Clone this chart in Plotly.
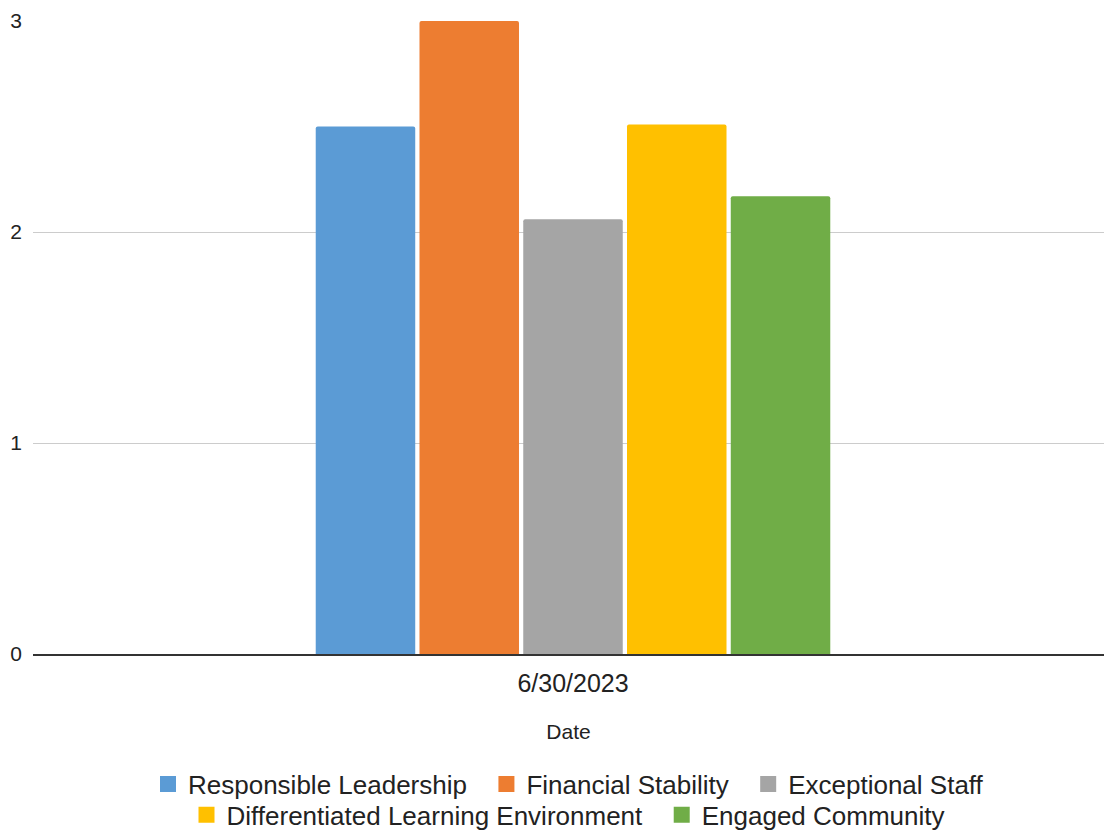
import plotly.graph_objects as go

categories = ["6/30/2023"]
series_names = ["Responsible Leadership", "Financial Stability", "Exceptional Staff",
                "Differentiated Learning Environment", "Engaged Community"]
series_values = [[2.5], [3.0], [2.06], [2.51], [2.17]]
colors = ["#5b9bd5", "#ed7d31", "#a5a5a5", "#ffc000", "#70ad47"]
legend_rows = ["legend", "legend", "legend", "legend2", "legend2"]
legend_pad = ["\u00a0\u00a0", "\u00a0\u00a0", "", "\u00a0\u00a0", ""]
y_ticks = [0, 1, 2, 3]

fig = go.Figure()
for name, vals, c in zip(series_names, series_values, colors):
    fig.add_trace(go.Bar(x=categories, y=vals, name=name, showlegend=False,
                         marker=dict(color=c, line=dict(width=0), cornerradius=2)))
# legend-only entries (square swatches)
for name, c, lg, pad in zip(series_names, colors, legend_rows, legend_pad):
    fig.add_trace(go.Scatter(x=[None], y=[None], name=name + pad, mode="markers", legend=lg,
                             marker=dict(symbol="square", size=16, color=c)))

legend_common = dict(orientation="h", x=0.5, xanchor="center", yanchor="middle",
                     font=dict(size=26, color="#222222"), itemsizing="trace",
                     bgcolor="rgba(0,0,0,0)", borderwidth=0)

fig.update_layout(
    width=1104, height=830,
    margin=dict(l=33, r=0, t=21, b=176, autoexpand=False),
    paper_bgcolor="white", plot_bgcolor="white",
    font=dict(family="Liberation Sans, Arial, sans-serif", color="#222222"),
    barmode="group", bargap=0.5156, bargroupgap=0.041,
    showlegend=True,
    legend=dict(y=-0.2054, **legend_common),
    legend2=dict(y=-0.2543, **legend_common),
    xaxis=dict(type="category", range=[-0.5042, 0.4958], showgrid=False, showline=True,
               linecolor="#333333", linewidth=1.5,
               tickfont=dict(size=25, color="#222222"), ticks="", ticklabelstandoff=6,
               title=dict(text="Date", font=dict(size=21, color="#222222"), standoff=29)),
    yaxis=dict(range=[0, 3], tickvals=y_ticks, showgrid=True, gridcolor="#cccccc", gridwidth=1,
               zeroline=False, showline=False, tickfont=dict(size=21, color="#222222"), ticks="",
               ticklabelstandoff=10),
)
fig.write_html("out.html")
